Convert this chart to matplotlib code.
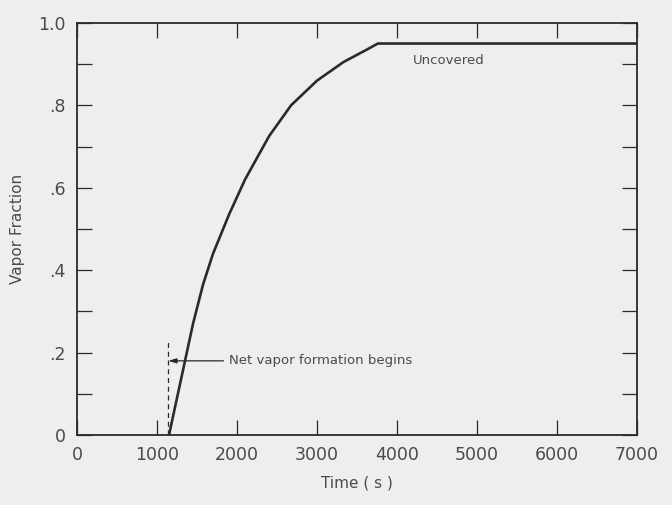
"""Vapor fraction vs time: scanned-report style line chart."""
import matplotlib
matplotlib.use("Agg")
import matplotlib.pyplot as plt
from matplotlib.ticker import MultipleLocator

# curve (time in s, vapor fraction)
time_s = [1150, 1350, 1450, 1575, 1700, 1900, 2100, 2400, 2675, 3000, 3330, 3620, 3760, 7000]
vapor_fraction = [0.0, 0.18, 0.27, 0.365, 0.44, 0.535, 0.62, 0.725, 0.80, 0.86, 0.905, 0.935, 0.95, 0.95]

onset_time = 1140
onset_marker_top = 0.23
onset_level = 0.18

x_ticks = [0, 1000, 2000, 3000, 4000, 5000, 6000, 7000]
y_ticks = [0, 0.2, 0.4, 0.6, 0.8, 1.0]
y_ticklabels = ["0", ".2", ".4", ".6", ".8", "1.0"]

ink = "#2a2a2a"
text_c = "#4a4a4a"
paper = "#eeeeec"

fig = plt.figure(figsize=(6.72, 5.05), dpi=100, facecolor=paper)
ax = fig.add_axes([0.1146, 0.1386, 0.8334, 0.816])
ax.set_facecolor(paper)

ax.plot(time_s, vapor_fraction, color=ink, linewidth=1.9,
        solid_joinstyle="round", solid_capstyle="round")

# onset marker: dashed vertical and a leader line with arrowhead
ax.plot([onset_time, onset_time], [0, onset_marker_top], color=ink,
        linewidth=0.9, linestyle=(0, (4, 3)))
ax.annotate("Net vapor formation begins", xy=(onset_time, onset_level),
            xytext=(1900, onset_level), va="center", ha="left",
            fontsize=9.5, color=text_c,
            arrowprops=dict(arrowstyle="-|>,head_length=0.5,head_width=0.15",
                            color=ink, linewidth=0.9, shrinkA=2, shrinkB=0))
ax.text(4200, 0.91, "Uncovered", fontsize=9.5, color=text_c, va="center")

ax.set_xlim(0, 7000)
ax.set_ylim(0, 1.0)
ax.set_xticks(x_ticks)
ax.set_xticklabels([str(t) for t in x_ticks])
ax.set_yticks(y_ticks)
ax.set_yticklabels(y_ticklabels)
ax.yaxis.set_minor_locator(MultipleLocator(0.1))

ax.tick_params(which="both", direction="in", length=11, width=0.9,
               color=ink, top=True, right=True, labelsize=12.5,
               labelcolor=text_c, pad=8)
ax.tick_params(axis="x", which="minor", top=False, bottom=False)

for s in ax.spines.values():
    s.set_color(ink)
    s.set_linewidth(1.3)

ax.set_xlabel("Time ( s )", fontsize=11, color=text_c, labelpad=8)
ax.set_ylabel("Vapor Fraction", fontsize=11, color=text_c, labelpad=10)

fig.savefig("out.png", dpi=100, facecolor=paper)
